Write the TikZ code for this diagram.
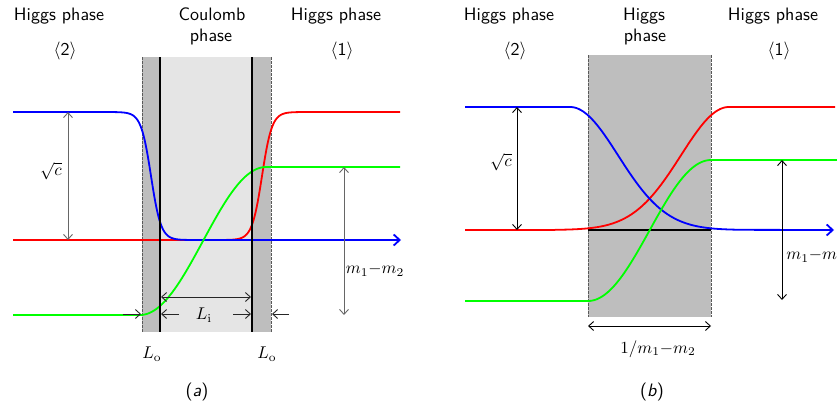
\documentclass[tikz,border=0pt]{standalone}
\usetikzlibrary{arrows.meta}
\definecolor{darkfill}{gray}{0.745}
\definecolor{lightfill}{gray}{0.898}
\definecolor{cblue}{rgb}{0,0,1}
\definecolor{cred}{rgb}{1,0,0}
\definecolor{cgreen}{rgb}{0,1,0}
\definecolor{dashcol}{gray}{0.35}
\definecolor{dimgray}{gray}{0.4}
\begin{document}
\begin{tikzpicture}[x=1pt,y=-1pt,
  lbl/.style={font=\sffamily, scale=1.8, inner sep=0pt, anchor=base},
  mlbl/.style={scale=1.7, inner sep=0pt},
  curve/.style={line width=1.8pt, line join=round},
  wall/.style={line width=2.8pt, black},
  dashwall/.style={dashcol, line width=0.9pt, dash pattern=on 2.5pt off 1.5pt},
  dimarr/.style={line width=0.9pt,{Straight Barb[length=5pt,width=9pt]}-{Straight Barb[length=5pt,width=9pt]}},
  onearr/.style={line width=0.9pt,-{Straight Barb[length=5pt,width=9pt]}},
  axarr/.style={-{Straight Barb[length=6pt,width=11pt]}}
]
\useasboundingbox (0,0) rectangle (837,407);

% ================= panel (a) =================
\fill[darkfill] (142,57) rectangle (271,332);
\fill[lightfill] (160,57) rectangle (252,332);
\draw[dashwall] (142,57) -- (142,332);
\draw[dashwall] (271,57) -- (271,332);

% curves
\draw[curve, cred] (13,240) -- (218,240)
  -- plot[domain=218:306, samples=90] (\x,{176-64*tanh((\x-262)/10)})
  -- (400,112);
\draw[curve, cblue, axarr] (13,112) -- (107,112)
  -- plot[domain=107:195, samples=90] (\x,{176+64*tanh((\x-151)/10)})
  -- (401,240);
\draw[curve, cgreen] (13,315) -- (140,315)
  -- plot[domain=140:266, samples=80] (\x,{315-74*(1-cos(1.42857*(\x-140)))})
  -- (400,167);

% walls
\draw[wall] (160,57) -- (160,332);
\draw[wall] (252,57) -- (252,332);

% dimension arrows
\coordinate (ca1) at (68,112); \coordinate (ca2) at (68,240);
\draw[dimarr, dimgray] (ca1) -- (ca2);
\coordinate (ma1) at (344,167); \coordinate (ma2) at (344,315);
\draw[dimarr, dimgray] (ma1) -- (ma2);
\coordinate (li1) at (161,297); \coordinate (li2) at (251,297);
\draw[dimarr, black!85] (li1) -- (li2);
\coordinate (o1s) at (123,314); \coordinate (o1e) at (141,314);
\draw[onearr, black!85] (o1s) -- (o1e);
\coordinate (i1s) at (179,314); \coordinate (i1e) at (161,314);
\draw[onearr, black!85] (i1s) -- (i1e);
\coordinate (i2s) at (233,314); \coordinate (i2e) at (251,314);
\draw[onearr, black!85] (i2s) -- (i2e);
\coordinate (o2s) at (289,314); \coordinate (o2e) at (272,314);
\draw[onearr, black!85] (o2s) -- (o2e);

% labels
\node[lbl] (ahl) at (59,20) {Higgs phase};
\node[lbl] (ab2) at (65,55) {$\langle$2$\rangle$};
\node[lbl] (ac1) at (212,20) {Coulomb};
\node[lbl] (ac2) at (211,41) {phase};
\node[lbl] (ahr) at (336,20) {Higgs phase};
\node[lbl] (ab1) at (342,55) {$\langle$1$\rangle$};
\node[mlbl] (asc) at (51,171) {$\sqrt{c}$};
\node[mlbl] (amm) at (375,270) {$m_1{-}m_2$};
\node[mlbl] (ali) at (204,315) {$L_{\mathrm{i}}$};
\node[mlbl] (alo1) at (152,354) {$L_{\mathrm{o}}$};
\node[mlbl] (alo2) at (267,354) {$L_{\mathrm{o}}$};
\node[lbl] (acap) at (197,396) {(\textit{a})};

% ================= panel (b) =================
\fill[darkfill] (588,55) rectangle (711,317);
\draw[dashwall] (588,55) -- (588,317);
\draw[dashwall] (711,55) -- (711,317);
\draw[line width=1.4pt, black] (588,230) -- (711,230);

\draw[curve, cred] (465,230) -- (555,230)
  -- plot[domain=555:729, samples=100] (\x,{230-123*exp(-pow((729-\x)/68,2))})
  -- (835,107);
\draw[curve, cblue, axarr] (465,107) -- (570,107)
  -- plot[domain=570:744, samples=100] (\x,{230-123*exp(-pow((\x-570)/68,2))})
  -- (834,230);
\draw[curve, cgreen] (465,301) -- (588,301)
  -- plot[domain=588:711, samples=80] (\x,{301-70.5*(1-cos(1.46341*(\x-588)))})
  -- (837,160);

\coordinate (cb1) at (517,107); \coordinate (cb2) at (517,230);
\draw[dimarr, black] (cb1) -- (cb2);
\coordinate (mb1) at (782,160); \coordinate (mb2) at (782,300);
\draw[dimarr, black] (mb1) -- (mb2);
\coordinate (wb1) at (588,326); \coordinate (wb2) at (711,326);
\draw[dimarr, black] (wb1) -- (wb2);

\node[lbl] (bhl) at (509,20) {Higgs phase};
\node[lbl] (bb2) at (515,55) {$\langle$2$\rangle$};
\node[lbl] (bh1) at (644,20) {Higgs};
\node[lbl] (bh2) at (645,41) {phase};
\node[lbl] (bhr) at (773,20) {Higgs phase};
\node[lbl] (bb1) at (779,55) {$\langle$1$\rangle$};
\node[mlbl] (bsc) at (501,162) {$\sqrt{c}$};
\node[mlbl, anchor=west] (bmm) at (786,256) {$m_1{-}m_2$};
\node[mlbl] (bw) at (658,349) {$1/m_1{-}m_2$};
\node[lbl] (bcap) at (652,396) {(\textit{b})};
\end{tikzpicture}
\end{document}
